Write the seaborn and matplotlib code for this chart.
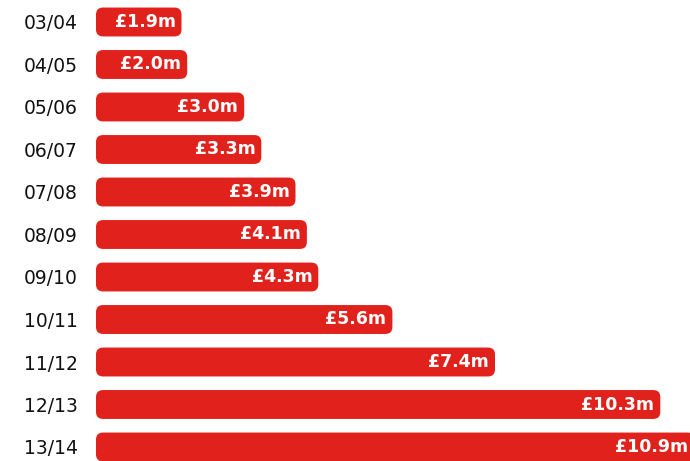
import matplotlib
matplotlib.use("Agg")
from matplotlib import pyplot as plt
from matplotlib.patches import FancyBboxPatch
import seaborn as sns
import pandas as pd

# data
seasons = ["03/04", "04/05", "05/06", "06/07", "07/08", "08/09",
           "09/10", "10/11", "11/12", "12/13", "13/14"]
amounts = [1.9, 2.0, 3.0, 3.3, 3.9, 4.1, 4.3, 5.6, 7.4, 10.3, 10.9]
labels = ["£%.1fm" % v for v in amounts]

df = pd.DataFrame({"season": seasons, "amount": amounts})

red = "#E1221C"
sns.set_style("white")
plt.rcParams["font.family"] = ["DejaVu Sans"]

fig = plt.figure(figsize=(6.9, 4.61), dpi=100)
ax = fig.add_axes([96 / 690, 0, 594 / 690, 1])

sns.barplot(data=df, x="amount", y="season", color=red, width=0.68,
            saturation=1, ax=ax)

# axis starts a little above zero, like the original
x_lo = 0.4
x_hi = x_lo + 594 / 57.0
ax.set_xlim(x_lo, x_hi)
ax.set_ylim(10 + 14 / 42.5, -22 / 42.5)

# swap the flat bars for rounded ones
px_x = 594 / (x_hi - x_lo)
px_y = 42.5
bars = list(ax.patches)
for b in bars:
    y0, h = b.get_y(), b.get_height()
    x1 = b.get_x() + b.get_width()
    b.remove()
    r = 7 / px_x
    box = FancyBboxPatch((x_lo, y0), x1 - x_lo, h,
                         boxstyle="round,pad=0,rounding_size=%f" % r,
                         mutation_aspect=px_x / px_y,
                         facecolor=red, edgecolor="none")
    ax.add_patch(box)

for i, (v, lab) in enumerate(zip(amounts, labels)):
    ax.text(v - 6 / px_x, i, lab, color="white", fontsize=12.5,
            fontweight="bold", ha="right", va="center")

ax.set_xlabel("")
ax.set_ylabel("")
ax.set_xticks([])
ax.tick_params(axis="y", length=0, pad=13, labelsize=13.5, labelcolor="#111111")
sns.despine(ax=ax, left=True, bottom=True)

fig.savefig("out.png", dpi=100)
